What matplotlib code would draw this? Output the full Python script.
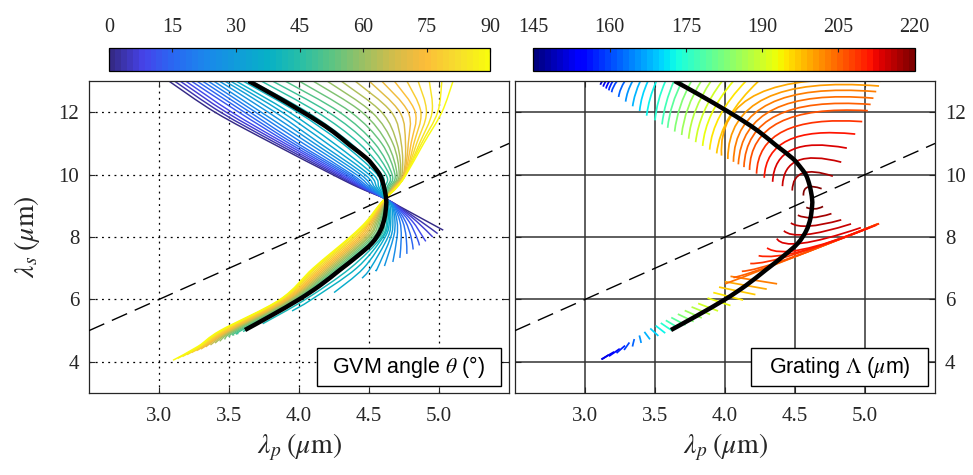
import numpy as np
import matplotlib
matplotlib.use('Agg')
import matplotlib.pyplot as plt
from matplotlib.colors import LinearSegmentedColormap, Normalize
from matplotlib.cm import ScalarMappable
from matplotlib.path import Path
from matplotlib.patches import PathPatch, Rectangle

plt.rcParams['mathtext.fontset'] = 'stix'
plt.rcParams['font.family'] = ['Liberation Serif', 'DejaVu Serif']

nan = np.nan

# ---------------- data ----------------
# left panel: one curve per GVM angle theta (deg)
theta = [0, 3, 6, 9, 12, 15, 18, 21, 24, 27, 30, 33, 36, 39, 42, 45,
         48, 51, 54, 57, 60, 63, 66, 69, 72, 75, 78, 81, 84, 87, 90]

# lambda_p of each curve where it crosses a given lambda_s (upper branch)
lev_up = [13.0, 12.0, 11.0, 10.0, 9.6]
p_s13 = [3.07, 3.11, 3.15, 3.19, 3.23, 3.27, 3.31, 3.35, 3.39, 3.43, 3.47, 3.51, 3.55, 3.60, 3.66, 3.73,
         3.81, 3.90, 4.00, 4.10, 4.20, 4.30, 4.40, 4.50, 4.59, 4.68, 4.77, 4.85, 4.93, 5.02, 5.10]
p_s12 = [3.40, 3.44, 3.48, 3.52, 3.57, 3.61, 3.65, 3.69, 3.73, 3.78, 3.83, 3.88, 3.93, 3.99, 4.06, 4.13,
         4.21, 4.29, 4.37, 4.45, 4.52, 4.59, 4.66, 4.72, 4.78, 4.83, 4.87, 4.91, 4.95, 4.99, 5.02]
p_s11 = [3.81, 3.84, 3.87, 3.90, 3.93, 3.96, 3.99, 4.03, 4.07, 4.11, 4.15, 4.20, 4.25, 4.31, 4.37, 4.43,
         4.49, 4.54, 4.59, 4.63, 4.67, 4.70, 4.73, 4.76, 4.78, 4.80, 4.82, 4.84, 4.86, 4.875, 4.89]
p_s10 = [4.24, 4.26, 4.28, 4.30, 4.32, 4.34, 4.36, 4.38, 4.41, 4.44, 4.47, 4.50, 4.53, 4.56, 4.59, 4.62,
         4.645, 4.665, 4.685, 4.70, 4.715, 4.725, 4.735, 4.745, 4.75, 4.755, 4.76, 4.76, 4.76, 4.76, 4.765]
p_s96 = [4.42, 4.43, 4.44, 4.45, 4.46, 4.47, 4.48, 4.495, 4.51, 4.525, 4.54, 4.555, 4.57, 4.585, 4.60, 4.615,
         4.63, 4.64, 4.65, 4.66, 4.665, 4.67, 4.675, 4.68, 4.685, 4.69, 4.69, 4.695, 4.695, 4.70, 4.70]

# common crossing point (degeneracy)
cross_p, cross_s = 4.615, 9.23

# lower branch
lev_dn = [9.0, 8.5, 8.0, 7.0, 6.0, 5.0, 4.5]
p_s90 = [4.71, 4.705, 4.70, 4.695, 4.69, 4.685, 4.68, 4.675, 4.67, 4.665, 4.66, 4.65, 4.64, 4.635, 4.627, 4.62,
         4.617, 4.613, 4.61, 4.606, 4.602, 4.598, 4.594, 4.59, 4.586, 4.582, 4.578, 4.575, 4.572, 4.57, 4.567]
p_s85 = [4.915, 4.87, 4.84, 4.81, 4.785, 4.76, 4.74, 4.72, 4.70, 4.685, 4.67, 4.655, 4.645, 4.635, 4.625, 4.61,
         4.60, 4.59, 4.58, 4.57, 4.56, 4.55, 4.54, 4.53, 4.52, 4.51, 4.505, 4.50, 4.495, 4.49, 4.48]
p_s80 = [nan, nan, nan, 4.885, 4.84, 4.80, 4.765, 4.73, 4.70, 4.675, 4.655, 4.635, 4.615, 4.60, 4.59, 4.575,
         4.56, 4.545, 4.53, 4.515, 4.50, 4.49, 4.475, 4.46, 4.445, 4.43, 4.415, 4.40, 4.39, 4.375, 4.364]
p_s70 = [nan, nan, nan, nan, nan, nan, nan, nan, nan, nan, 4.56, 4.51, 4.46, 4.41, 4.365, 4.32,
         4.30, 4.285, 4.27, 4.255, 4.24, 4.225, 4.21, 4.195, 4.18, 4.165, 4.15, 4.135, 4.12, 4.11, 4.10]
p_s60 = [nan, nan, nan, nan, nan, nan, nan, nan, nan, nan, nan, nan, nan, 4.09, 4.045, 4.00,
         3.99, 3.98, 3.97, 3.96, 3.95, 3.94, 3.93, 3.92, 3.91, 3.90, 3.89, 3.88, 3.875, 3.87, 3.864]
p_s50 = [nan, nan, nan, nan, nan, nan, nan, nan, nan, nan, nan, nan, nan, nan, nan, nan,
         3.585, 3.57, 3.555, 3.54, 3.53, 3.52, 3.51, 3.50, 3.49, 3.48, 3.47, 3.46, 3.45, 3.445, 3.436]
p_s45 = [nan, nan, nan, nan, nan, nan, nan, nan, nan, nan, nan, nan, nan, nan, nan, nan,
         nan, nan, nan, nan, nan, nan, nan, nan, 3.33, 3.32, 3.31, 3.30, 3.295, 3.29, 3.28]
end_p = [5.03, 4.99, 4.955, 4.905, 4.86, 4.815, 4.77, 4.72, 4.67, 4.61, 4.55, 4.45, 4.25, 3.95, 3.74, 3.60,
         3.567, 3.533, 3.50, 3.467, 3.433, 3.40, 3.367, 3.333, 3.30, 3.267, 3.233, 3.20, 3.167, 3.133, 3.10]
end_s = [8.22, 8.11, 8.00, 7.86, 7.73, 7.60, 7.46, 7.33, 7.20, 7.07, 6.95, 6.68, 6.22, 5.63, 5.22, 4.97,
         4.91, 4.85, 4.79, 4.72, 4.66, 4.60, 4.54, 4.48, 4.42, 4.36, 4.30, 4.23, 4.17, 4.11, 4.05]

# GVM curve (black)
gvm_p = [3.64, 3.82, 4.007, 4.13, 4.245, 4.364, 4.483, 4.545, 4.579, 4.60, 4.614, 4.622, 4.622,
         4.61, 4.58, 4.52, 4.42, 4.29, 4.15, 4.00, 3.80, 3.614]
gvm_s = [13.0, 12.55, 12.06, 11.72, 11.37, 10.94, 10.52, 10.2, 9.98, 9.72, 9.45, 9.2, 9.0,
         8.6, 8.2, 7.8, 7.4, 6.94, 6.45, 6.0, 5.48, 5.02]

# degeneracy line lambda_s = 2 lambda_p
deg_p = [2.5, 5.5]
deg_s = [5.0, 11.0]

# right panel: constant grating period arcs (start, middle, end), upper group
grat_up = [150, 152.5, 155, 157.5, 160, 162.5, 165, 167.5, 170, 172.5, 175, 177.5, 180, 182.5, 185,
           187.5, 190, 192.5, 195, 197.5, 199, 201, 202.5, 204, 205.5, 207, 209, 211, 213, 215,
           217, 219]
up_sp = [3.11, 3.13, 3.15, 3.17, 3.19, 3.24, 3.29, 3.34, 3.39, 3.44, 3.50, 3.55, 3.59, 3.64, 3.69,
         3.74, 3.79, 3.84, 3.89, 3.94, 3.975, 4.02, 4.06, 4.095, 4.135, 4.175, 4.225, 4.28, 4.34, 4.41,
         4.48, 4.56]
up_ss = [12.88, 12.82, 12.76, 12.70, 12.64, 12.49, 12.34, 12.19, 12.04, 11.89, 11.74, 11.61, 11.50, 11.38, 11.27,
         11.15, 11.04, 10.92, 10.80, 10.68, 10.61, 10.50, 10.41, 10.33, 10.24, 10.15, 10.03, 9.90, 9.77, 9.63,
         9.49, 9.33]
up_mp = [3.115, 3.137, 3.159, 3.18, 3.203, 3.255, 3.307, 3.36, 3.41, 3.465, 3.525, 3.58, 3.625, 3.68, 3.735,
         3.79, 3.85, 3.905, 3.965, 4.03, 4.24, 4.29, 4.32, 4.35, 4.37, 4.39, 4.42, 4.45, 4.48, 4.52,
         4.555, 4.59]
up_ms = [12.94, 12.91, 12.88, 12.85, 12.82, 12.745, 12.67, 12.595, 12.52, 12.445, 12.37, 12.305, 12.25, 12.19, 12.135,
         12.075, 12.02, 11.96, 11.90, 11.85, 12.60, 12.45, 12.28, 12.10, 11.90, 11.68, 11.40, 11.10, 10.80, 10.45,
         10.05, 9.60]
up_ep = [3.125, 3.15, 3.175, 3.20, 3.23, 3.285, 3.34, 3.395, 3.45, 3.51, 3.575, 3.635, 3.695, 3.76, 3.83,
         3.90, 3.98, 4.06, 4.15, 4.24, 5.11, 5.10, 5.08, 5.06, 5.04, 5.02, 4.98, 4.93, 4.87, 4.83,
         4.77, 4.69]
up_es = [13.0, 13.0, 13.0, 13.0, 13.0, 13.0, 13.0, 13.0, 13.0, 13.0, 13.0, 13.0, 13.0, 13.0, 13.0,
         13.0, 13.0, 13.0, 13.0, 13.0, 12.99, 12.84, 12.66, 12.45, 12.25, 12.05, 11.70, 11.30, 10.85, 10.40,
         9.95, 9.55]

# lower group
grat_dn = [150, 152.5, 155, 157.5, 160, 162.5, 165, 167.5, 170, 172.5, 175, 177.5, 180, 182.5, 185,
           187.5, 190, 192.5, 195, 197.5, 200, 202.5, 204, 205.5, 207, 208.5, 210, 211.5, 213, 214.5,
           216, 217.5, 219]
dn_sp = [3.12, 3.116, 3.171, 3.225, 3.279, 3.339, 3.401, 3.464, 3.524, 3.573, 3.62, 3.667, 3.718, 3.776, 3.834,
         3.893, 3.95, 4.039, 4.129, 4.217, 4.298, 4.372, 4.00, 4.06, 4.12, 4.18, 4.24, 4.30, 4.37, 4.42,
         4.47, 4.52, 4.58]
dn_ss = [4.08, 4.08, 4.18, 4.28, 4.38, 4.49, 4.605, 4.72, 4.83, 4.92, 5.005, 5.09, 5.18, 5.29, 5.405,
         5.52, 5.63, 5.805, 5.98, 6.155, 6.33, 6.50, 6.50, 6.70, 6.90, 7.15, 7.40, 7.65, 7.95, 8.20,
         8.45, 8.70, 8.95]
dn_mp = [3.145, 3.162, 3.21, 3.255, 3.298, 3.345, 3.395, 3.444, 3.495, 3.539, 3.58, 3.622, 3.667, 3.72, 3.773,
         3.827, 3.879, 3.957, 4.023, 4.087, 4.148, 4.205, 4.35, 4.40, 4.45, 4.50, 4.55, 4.55, 4.55, 4.58,
         4.60, 4.62, 4.64]
dn_ms = [4.15, 4.20, 4.30, 4.40, 4.50, 4.61, 4.725, 4.84, 4.95, 5.04, 5.125, 5.21, 5.30, 5.41, 5.525,
         5.64, 5.75, 5.925, 6.10, 6.275, 6.45, 6.62, 7.10, 7.20, 7.30, 7.45, 7.55, 7.60, 7.80, 8.08,
         8.35, 8.62, 8.90]
dn_ep = [3.168, 3.208, 3.248, 3.286, 3.317, 3.352, 3.388, 3.424, 3.466, 3.504, 3.541, 3.577, 3.616, 3.663, 3.712,
         3.761, 3.808, 3.875, 3.916, 3.957, 3.998, 4.039, 5.08, 5.09, 5.10, 5.10, 5.08, 5.03, 4.97, 4.90,
         4.83, 4.76, 4.70]
dn_es = [4.22, 4.32, 4.42, 4.52, 4.62, 4.73, 4.845, 4.96, 5.07, 5.16, 5.245, 5.33, 5.42, 5.53, 5.645,
         5.76, 5.87, 6.045, 6.22, 6.395, 6.57, 6.74, 8.40, 8.42, 8.43, 8.43, 8.38, 8.30, 8.30, 8.42,
         8.55, 8.75, 8.98]

x_ticks = [3.0, 3.5, 4.0, 4.5, 5.0]
y_ticks = [4, 6, 8, 10, 12]
theta_ticks = [0, 15, 30, 45, 60, 75, 90]
grat_ticks = [145, 160, 175, 190, 205, 220]

# ---------------- colormaps ----------------
parula = LinearSegmentedColormap.from_list('parula', [
    (0.00, (0.2081, 0.1663, 0.5292)),
    (0.083, (0.2752, 0.2617, 0.9164)),
    (0.167, (0.1600, 0.4100, 0.9500)),
    (0.25, (0.1054, 0.5293, 0.9229)),
    (0.333, (0.0646, 0.6135, 0.8555)),
    (0.417, (0.0253, 0.6924, 0.7759)),
    (0.50, (0.1540, 0.7453, 0.6553)),
    (0.583, (0.3500, 0.7700, 0.5200)),
    (0.667, (0.5962, 0.7539, 0.3953)),
    (0.75, (0.8234, 0.7398, 0.2932)),
    (0.833, (0.9892, 0.7380, 0.2245)),
    (0.917, (0.9646, 0.8654, 0.1761)),
    (1.00, (0.9763, 0.9831, 0.0538)),
], N=64)
jet = plt.get_cmap('jet', 64)
norm_t = Normalize(0, 90)
norm_g = Normalize(145, 220)
ink = '#262626'


def smooth(xs, ys):
    # Catmull-Rom through the read points, drawn as Bezier segments by matplotlib
    P = np.column_stack([xs, ys])
    n = len(P)
    verts, codes = [P[0]], [Path.MOVETO]
    for i in range(n - 1):
        p0 = P[i - 1] if i > 0 else P[i]
        p3 = P[i + 2] if i + 2 < n else P[i + 1]
        verts += [P[i] + (P[i + 1] - p0) / 6, P[i + 1] - (p3 - P[i]) / 6, P[i + 1]]
        codes += [Path.CURVE4] * 3
    return Path(verts, codes)


def arc(ax, s, m, e, color, lw):
    c = (2 * m[0] - (s[0] + e[0]) / 2, 2 * m[1] - (s[1] + e[1]) / 2)
    path = Path([s, c, e], [Path.MOVETO, Path.CURVE3, Path.CURVE3])
    ax.add_patch(PathPatch(path, fc='none', ec=color, lw=lw, zorder=2))


# ---------------- figure ----------------
fig = plt.figure(figsize=(9.73, 4.75), dpi=100)
axL = fig.add_axes([0.0915, 0.1726, 0.4317, 0.6568])
axR = fig.add_axes([0.5293, 0.1726, 0.4317, 0.6568])
caxL = fig.add_axes([0.1118, 0.8512, 0.3923, 0.0472])
caxR = fig.add_axes([0.5483, 0.8512, 0.3916, 0.0472])

# left panel family
up_cols = [p_s13, p_s12, p_s11, p_s10, p_s96]
dn_cols = [p_s90, p_s85, p_s80, p_s70, p_s60, p_s50, p_s45]
for i, th in enumerate(theta):
    xs = [c[i] for c in up_cols] + [cross_p]
    ys = list(lev_up) + [cross_s]
    for lev, c in zip(lev_dn, dn_cols):
        if not np.isnan(c[i]) and lev > end_s[i]:
            xs.append(c[i]); ys.append(lev)
    xs.append(end_p[i]); ys.append(end_s[i])
    axL.add_patch(PathPatch(smooth(xs, ys), fc='none', ec=parula(norm_t(th)), lw=1.05,
                            capstyle='butt', zorder=2))

for i, g in enumerate(grat_up):
    arc(axR, (up_sp[i], up_ss[i]), (up_mp[i], up_ms[i]), (up_ep[i], up_es[i]), jet(norm_g(g)), 1.25)
for i, g in enumerate(grat_dn):
    arc(axR, (dn_sp[i], dn_ss[i]), (dn_mp[i], dn_ms[i]), (dn_ep[i], dn_es[i]), jet(norm_g(g)), 1.25)

for ax in (axL, axR):
    ax.plot(deg_p, deg_s, color='black', lw=1.0, dashes=(12, 6), zorder=3)
    ax.add_patch(PathPatch(smooth(gvm_p, gvm_s), fc='none', ec='black', lw=3.2,
                           capstyle='butt', zorder=4))
    ax.set_xlim(2.5, 5.5)
    ax.set_ylim(3, 13)
    ax.set_xticks(x_ticks)
    ax.set_xticklabels(['%.1f' % v for v in x_ticks])
    ax.set_yticks(y_ticks)
    ax.tick_params(direction='in', length=4, width=0.8, top=True, right=True, labelsize=15,
                   colors=ink)
    ax.tick_params(axis='x', pad=10)
    ax.tick_params(axis='y', pad=7)
    for sp in ax.spines.values():
        sp.set_linewidth(0.9)
        sp.set_color(ink)
    ax.set_xlabel(r'$\lambda_p\;(\mu\mathrm{m})$', fontsize=20, color=ink, labelpad=4)
    ax.set_axisbelow(True)

axL.grid(True, color='black', lw=0.9, dashes=(1.5, 3.5))
axR.grid(True, color='#333333', lw=1.1, linestyle='-')
axR.tick_params(labelleft=False, labelright=True)
axL.set_ylabel(r'$\lambda_s\;(\mu\mathrm{m})$', fontsize=20, color=ink, labelpad=12)

# label boxes
for ax, x0, w, txt in ((axL, 0.543, 0.438, r'GVM angle $\theta$ (°)'),
                       (axR, 0.561, 0.423, r'Grating $\Lambda$ ($\mu$m)')):
    ax.add_patch(Rectangle((x0, 0.022), w, 0.122, transform=ax.transAxes, fc='white',
                           ec='black', lw=1.0, zorder=6))
    ax.text(x0 + w / 2, 0.083, txt, transform=ax.transAxes, ha='center', va='center',
            fontsize=15.5, family=['Liberation Sans', 'DejaVu Sans'], zorder=7)

# colorbars
for cax, cmap, norm, ticks in ((caxL, parula, norm_t, theta_ticks), (caxR, jet, norm_g, grat_ticks)):
    cb = fig.colorbar(ScalarMappable(norm=norm, cmap=cmap), cax=cax, orientation='horizontal', ticks=ticks)
    cax.xaxis.set_ticks_position('top')
    cax.xaxis.set_label_position('top')
    cax.tick_params(direction='in', length=3, width=0.8, labelsize=14.5, colors=ink, pad=8)
    cb.outline.set_linewidth(0.9)

fig.savefig('out.png', dpi=100)
